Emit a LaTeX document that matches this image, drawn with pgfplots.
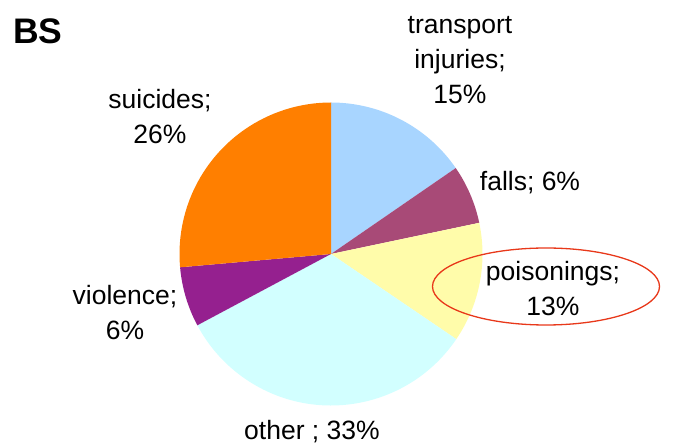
\documentclass[border=0pt]{standalone}
\usepackage{fontspec}
\setmainfont{Liberation Sans}
\usepackage{pgfplots}
\pgfplotsset{compat=1.18}
\usepackage{pgfplotstable}
\definecolor{cTransport}{HTML}{A8D5FF}
\definecolor{cFalls}{HTML}{A84A77}
\definecolor{cPoison}{HTML}{FFFCAA}
\definecolor{cOther}{HTML}{D2FFFF}
\definecolor{cViolence}{HTML}{95208F}
\definecolor{cSuicide}{HTML}{FF7F00}
\definecolor{cRing}{HTML}{E8381A}
\tikzset{lbl/.style={font=\fontsize{26.5}{35}\selectfont,align=center,inner sep=0pt}}
% share of each cause (%), clockwise from 12 o'clock
\pgfplotstableread{
label value
transport 15.4
falls 6.3
poisonings 12.8
other 32.7
violence 6.4
suicides 26.4
}\piedata
\def\curang{90}
\newcommand\slice[2]{%
  \pgfplotstablegetelem{#1}{value}\of\piedata
  \pgfmathsetmacro\endang{\curang-3.6*\pgfplotsretval}%
  \edef\temp{\noexpand\fill[#2] (axis cs:331,190) -- ++(\curang:151.5pt) arc[start angle=\curang, end angle=\endang, radius=151.5pt] -- cycle;}%
  \temp
  \xdef\curang{\endang}%
}
\begin{document}
\begin{tikzpicture}
\begin{axis}[x=1pt,y=1pt,xmin=0,xmax=675,ymin=0,ymax=444,
  scale only axis,hide axis,clip=false]
\path (axis cs:0,0) rectangle (axis cs:675,444);
\slice{0}{cTransport}
\slice{1}{cFalls}
\slice{2}{cPoison}
\slice{3}{cOther}
\slice{4}{cViolence}
\slice{5}{cSuicide}
\draw[cRing,line width=1.3pt] (axis cs:546,157.5) ellipse[x radius=113.5pt,y radius=38.5pt];
\node[anchor=west,inner sep=0pt,font=\fontsize{35.5}{40}\selectfont\bfseries] at (axis cs:13,413) {BS};
\node[lbl] at (axis cs:460,384) {transport\\injuries;\\15\%};
\node[lbl] at (axis cs:530,261) {falls; 6\%};
\node[lbl] at (axis cs:553,155) {poisonings;\\13\%};
\node[lbl] at (axis cs:312,12) {other ; 33\%};
\node[lbl] at (axis cs:125,131) {violence;\\6\%};
\node[lbl] at (axis cs:160,327) {suicides;\\26\%};
\end{axis}
\end{tikzpicture}
\end{document}
